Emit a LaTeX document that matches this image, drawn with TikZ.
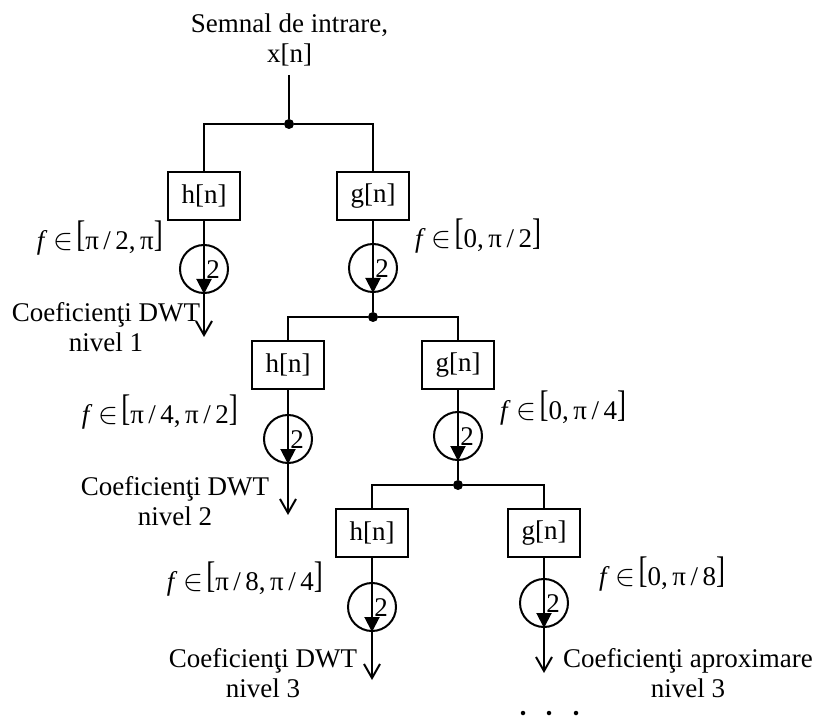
\documentclass[tikz,border=0pt]{standalone}
\usepackage{fontspec}
\setmainfont{Liberation Serif}
\usepackage{graphicx}
\usetikzlibrary{arrows.meta}
\newcommand{\lbk}{\raisebox{3pt}{\scalebox{1}[1.37]{[}}}
\newcommand{\rbk}{\raisebox{3pt}{\scalebox{1}[1.37]{]}}}
\newcommand{\frng}[1]{\textit{f}\hspace{6pt}\scalebox{1.2}{$\in$}\hspace{3pt}\lbk #1\rbk}
\begin{document}
\begin{tikzpicture}[x=1pt,y=-1pt,
  every node/.style={font=\fontsize{27}{30}\selectfont},
  fbox/.style={draw, line width=2pt, minimum width=72pt, minimum height=48pt, inner sep=0pt},
  dcirc/.style={draw, circle, line width=2pt, minimum size=48pt, inner sep=0pt},
  jdot/.style={circle, fill, minimum size=10pt, inner sep=0pt},
  smalldot/.style={circle, fill, minimum size=4.5pt, inner sep=0pt},
  wire/.style={line width=2pt},
  tri/.style={line width=2pt, -{Triangle[length=15pt,width=15pt]}},
  outarr/.style={line width=2pt, -{Straight Barb[length=14pt,width=16pt]}},
  lbl/.style={inner sep=0pt, align=center},
  num/.style={inner sep=0pt},
]
\useasboundingbox (0,0) rectangle (817,719);

% title and input
\node[lbl, anchor=base] (title) at (289.5,63) {Semnal de intrare,\\x[n]};
\coordinate (in) at (289,75);
\node[jdot] (j1) at (289,124) {};
\draw[wire] (in) -- (j1);

% level 1
\node[fbox] (h1) at (204,196) {h[n]};
\node[fbox] (g1) at (373,196) {g[n]};
\draw[wire] (j1) -| (h1.north);
\draw[wire] (j1) -| (g1.north);
\node[dcirc] (d1) at (204,269) {};
\node[dcirc] (e1) at (373,268) {};
\draw[wire] (h1) -- (d1);
\draw[wire] (g1) -- (e1);
\draw[tri] (d1.north) -- (d1.south);
\draw[tri] (e1.north) -- (e1.south);
\node[num] (n1) at (213,270) {2};
\node[num] (m1) at (382,269) {2};
\node[inner sep=0pt, anchor=base east] (f1) at (163,250) {\frng{π\,/\,2,\,π}};
\node[inner sep=0pt, anchor=base west] (f2) at (415,248) {\frng{0,\,π\,/\,2}};
\coordinate (o1) at (204,337);
\draw[outarr] (d1.south) -- (o1);
\node[lbl, anchor=base] (c1) at (106,352) {Coeficienţi DWT\\nivel 1};
\node[jdot] (j2) at (373,317) {};
\draw[wire] (e1) -- (j2);

% level 2
\node[fbox] (h2) at (288,365) {h[n]};
\node[fbox] (g2) at (458,365) {g[n]};
\draw[wire] (j2) -| (h2.north);
\draw[wire] (j2) -| (g2.north);
\node[dcirc] (d2) at (288,439) {};
\node[dcirc] (e2) at (458,436) {};
\draw[wire] (h2) -- (d2);
\draw[wire] (g2) -- (e2);
\draw[tri] (d2.north) -- (d2.south);
\draw[tri] (e2.north) -- (e2.south);
\node[num] (n2) at (297,440) {2};
\node[num] (m2) at (467,437) {2};
\node[inner sep=0pt, anchor=base east] (f3) at (238,423) {\frng{π\,/\,4,\,π\,/\,2}};
\node[inner sep=0pt, anchor=base west] (f4) at (500,419) {\frng{0,\,π\,/\,4}};
\coordinate (o2) at (288,515);
\draw[outarr] (d2.south) -- (o2);
\node[lbl, anchor=base] (c2) at (175,525) {Coeficienţi DWT\\nivel 2};
\node[jdot] (j3) at (458,485) {};
\draw[wire] (e2) -- (j3);

% level 3
\node[fbox] (h3) at (372,533) {h[n]};
\node[fbox] (g3) at (544,533) {g[n]};
\draw[wire] (j3) -| (h3.north);
\draw[wire] (j3) -| (g3.north);
\node[dcirc] (d3) at (372,607) {};
\node[dcirc] (e3) at (544,603) {};
\draw[wire] (h3) -- (d3);
\draw[wire] (g3) -- (e3);
\draw[tri] (d3.north) -- (d3.south);
\draw[tri] (e3.north) -- (e3.south);
\node[num] (n3) at (381,608) {2};
\node[num] (m3) at (553,604) {2};
\node[inner sep=0pt, anchor=base east] (f5) at (323,590) {\frng{π\,/\,8,\,π\,/\,4}};
\node[inner sep=0pt, anchor=base west] (f6) at (599,585) {\frng{0,\,π\,/\,8}};
\coordinate (o3) at (372,680);
\coordinate (o4) at (544,673);
\draw[outarr] (d3.south) -- (o3);
\draw[outarr] (e3.south) -- (o4);
\node[lbl, anchor=base] (c3) at (263,697) {Coeficienţi DWT\\nivel 3};
\node[lbl, anchor=base] (c4) at (688,697) {Coeficienţi aproximare\\nivel 3};

% continuation dots
\node[smalldot] (p1) at (523,713) {};
\node[smalldot] (p2) at (549,713) {};
\node[smalldot] (p3) at (576,713) {};
\end{tikzpicture}
\end{document}
